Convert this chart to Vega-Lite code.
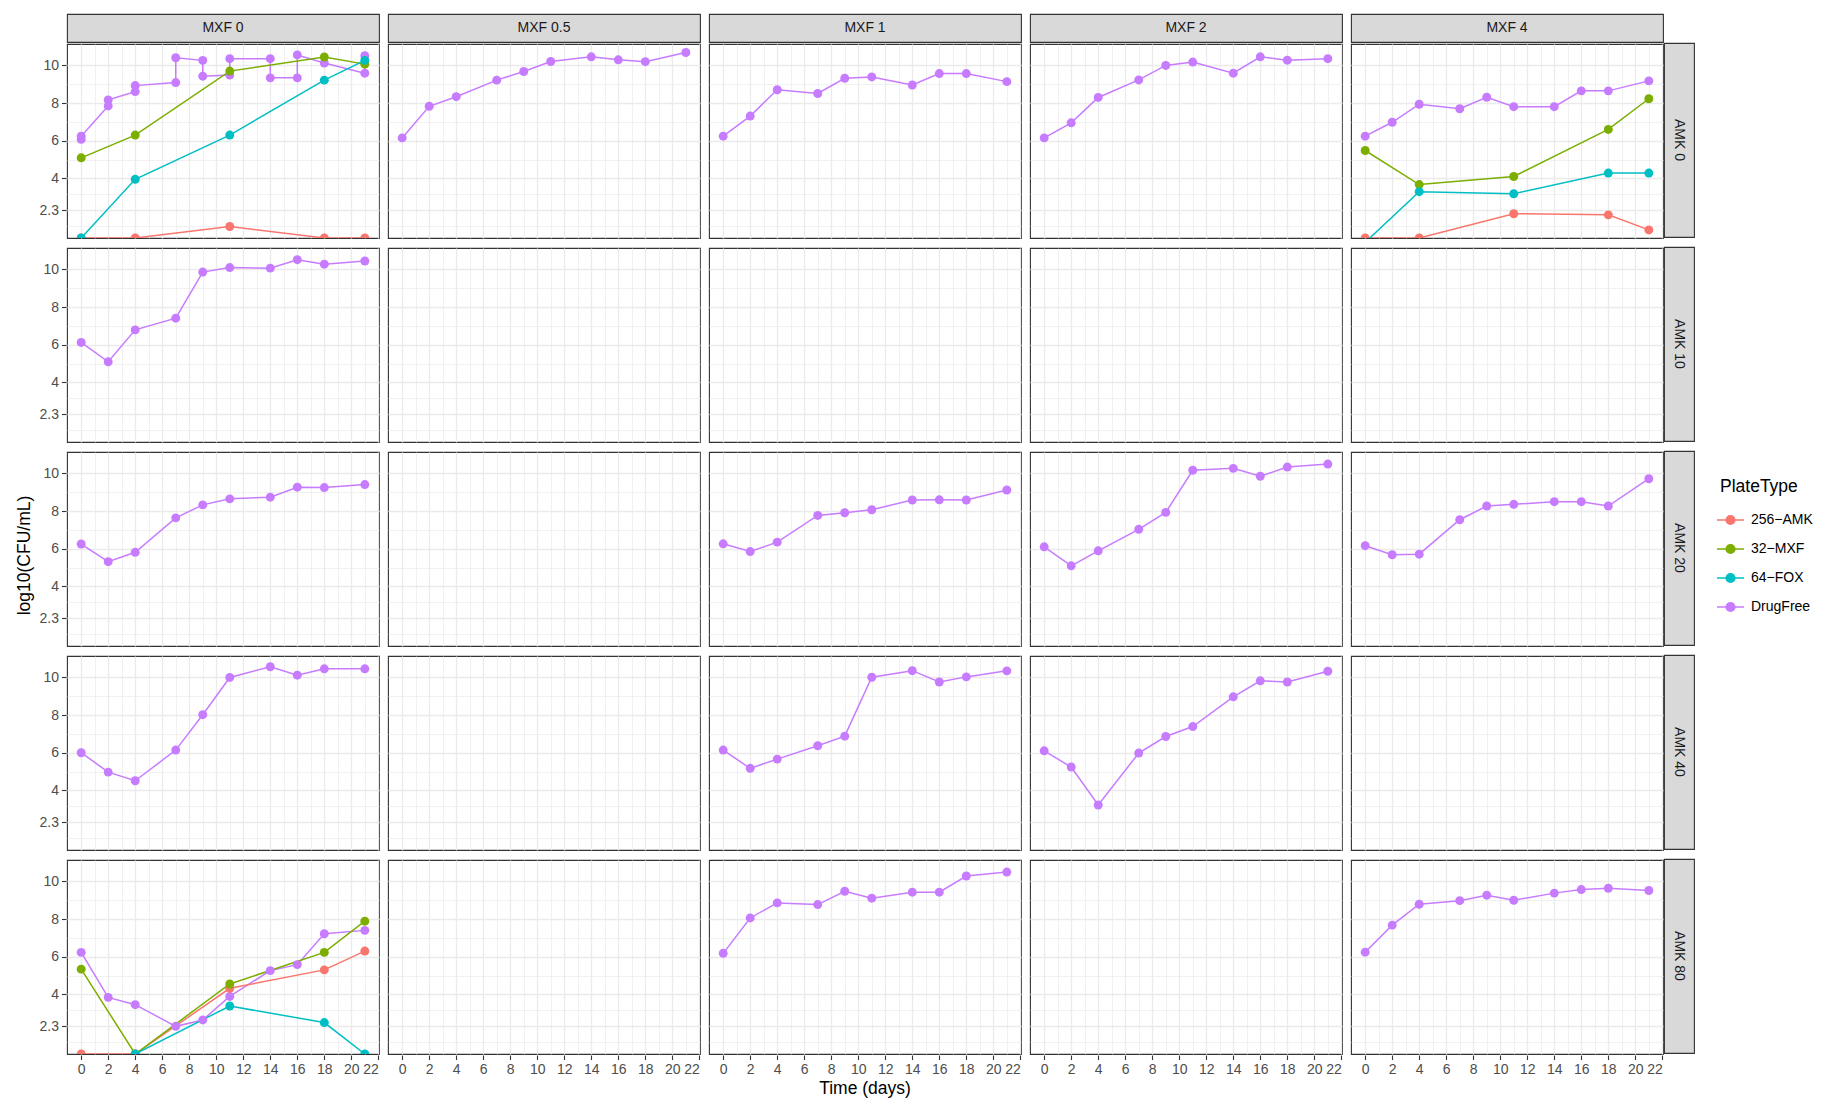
{
  "$schema": "https://vega.github.io/schema/vega-lite/v6.json",
  "background": "white",
  "padding": {"left": 15, "top": 13, "right": 0, "bottom": 0},
  "title": {"text": "log10(CFU/mL)", "orient": "left", "anchor": "middle", "fontSize": 17.5, "fontWeight": "normal", "color": "#000000", "font": "Liberation Sans", "offset": 6},
  "config": {
    "font": "Liberation Sans",
    "view": {"stroke": "#333333", "strokeWidth": 1.1},
    "axis": {"labelFont": "Liberation Sans", "labelFontSize": 14, "labelColor": "#4d4d4d", "tickColor": "#333333", "tickSize": 4.5, "tickWidth": 1.1, "labelPadding": 3, "domain": false, "gridColor": "#ebebeb", "labelOverlap": false}
  },
  "datasets": {
    "cols": [{"MXF": "MXF 0"}, {"MXF": "MXF 0.5"}, {"MXF": "MXF 1"}, {"MXF": "MXF 2"}, {"MXF": "MXF 4"}],
    "rows": [{"AMK": "AMK 0"}, {"AMK": "AMK 10"}, {"AMK": "AMK 20"}, {"AMK": "AMK 40"}, {"AMK": "AMK 80"}],
    "main": [
      {"MXF": "MXF 0", "AMK": "AMK 0", "Plate": "DrugFree", "Time": 0, "Value": 6.07},
      {"MXF": "MXF 0", "AMK": "AMK 0", "Plate": "DrugFree", "Time": 0, "Value": 6.24},
      {"MXF": "MXF 0", "AMK": "AMK 0", "Plate": "DrugFree", "Time": 2, "Value": 7.85},
      {"MXF": "MXF 0", "AMK": "AMK 0", "Plate": "DrugFree", "Time": 2, "Value": 8.17},
      {"MXF": "MXF 0", "AMK": "AMK 0", "Plate": "DrugFree", "Time": 4, "Value": 8.61},
      {"MXF": "MXF 0", "AMK": "AMK 0", "Plate": "DrugFree", "Time": 4, "Value": 8.93},
      {"MXF": "MXF 0", "AMK": "AMK 0", "Plate": "DrugFree", "Time": 7, "Value": 9.09},
      {"MXF": "MXF 0", "AMK": "AMK 0", "Plate": "DrugFree", "Time": 7, "Value": 10.41},
      {"MXF": "MXF 0", "AMK": "AMK 0", "Plate": "DrugFree", "Time": 9, "Value": 10.27},
      {"MXF": "MXF 0", "AMK": "AMK 0", "Plate": "DrugFree", "Time": 9, "Value": 9.43},
      {"MXF": "MXF 0", "AMK": "AMK 0", "Plate": "DrugFree", "Time": 11, "Value": 9.49},
      {"MXF": "MXF 0", "AMK": "AMK 0", "Plate": "DrugFree", "Time": 11, "Value": 10.36},
      {"MXF": "MXF 0", "AMK": "AMK 0", "Plate": "DrugFree", "Time": 14, "Value": 10.36},
      {"MXF": "MXF 0", "AMK": "AMK 0", "Plate": "DrugFree", "Time": 14, "Value": 9.34},
      {"MXF": "MXF 0", "AMK": "AMK 0", "Plate": "DrugFree", "Time": 16, "Value": 9.34},
      {"MXF": "MXF 0", "AMK": "AMK 0", "Plate": "DrugFree", "Time": 16, "Value": 10.56},
      {"MXF": "MXF 0", "AMK": "AMK 0", "Plate": "DrugFree", "Time": 18, "Value": 10.13},
      {"MXF": "MXF 0", "AMK": "AMK 0", "Plate": "DrugFree", "Time": 21, "Value": 9.59},
      {"MXF": "MXF 0", "AMK": "AMK 0", "Plate": "DrugFree", "Time": 21, "Value": 10.52},
      {"MXF": "MXF 0", "AMK": "AMK 0", "Plate": "256\u2212AMK", "Time": 0, "Value": 0.83},
      {"MXF": "MXF 0", "AMK": "AMK 0", "Plate": "256\u2212AMK", "Time": 4, "Value": 0.83},
      {"MXF": "MXF 0", "AMK": "AMK 0", "Plate": "256\u2212AMK", "Time": 11, "Value": 1.44},
      {"MXF": "MXF 0", "AMK": "AMK 0", "Plate": "256\u2212AMK", "Time": 18, "Value": 0.83},
      {"MXF": "MXF 0", "AMK": "AMK 0", "Plate": "256\u2212AMK", "Time": 21, "Value": 0.83},
      {"MXF": "MXF 0", "AMK": "AMK 0", "Plate": "32\u2212MXF", "Time": 0, "Value": 5.09},
      {"MXF": "MXF 0", "AMK": "AMK 0", "Plate": "32\u2212MXF", "Time": 4, "Value": 6.30},
      {"MXF": "MXF 0", "AMK": "AMK 0", "Plate": "32\u2212MXF", "Time": 11, "Value": 9.70},
      {"MXF": "MXF 0", "AMK": "AMK 0", "Plate": "32\u2212MXF", "Time": 18, "Value": 10.45},
      {"MXF": "MXF 0", "AMK": "AMK 0", "Plate": "32\u2212MXF", "Time": 21, "Value": 10.07},
      {"MXF": "MXF 0", "AMK": "AMK 0", "Plate": "64\u2212FOX", "Time": 0, "Value": 0.83},
      {"MXF": "MXF 0", "AMK": "AMK 0", "Plate": "64\u2212FOX", "Time": 4, "Value": 3.95},
      {"MXF": "MXF 0", "AMK": "AMK 0", "Plate": "64\u2212FOX", "Time": 11, "Value": 6.30},
      {"MXF": "MXF 0", "AMK": "AMK 0", "Plate": "64\u2212FOX", "Time": 18, "Value": 9.22},
      {"MXF": "MXF 0", "AMK": "AMK 0", "Plate": "64\u2212FOX", "Time": 21, "Value": 10.27},

      {"MXF": "MXF 0.5", "AMK": "AMK 0", "Plate": "DrugFree", "Time": 0, "Value": 6.15},
      {"MXF": "MXF 0.5", "AMK": "AMK 0", "Plate": "DrugFree", "Time": 2, "Value": 7.83},
      {"MXF": "MXF 0.5", "AMK": "AMK 0", "Plate": "DrugFree", "Time": 4, "Value": 8.34},
      {"MXF": "MXF 0.5", "AMK": "AMK 0", "Plate": "DrugFree", "Time": 7, "Value": 9.22},
      {"MXF": "MXF 0.5", "AMK": "AMK 0", "Plate": "DrugFree", "Time": 9, "Value": 9.68},
      {"MXF": "MXF 0.5", "AMK": "AMK 0", "Plate": "DrugFree", "Time": 11, "Value": 10.21},
      {"MXF": "MXF 0.5", "AMK": "AMK 0", "Plate": "DrugFree", "Time": 14, "Value": 10.46},
      {"MXF": "MXF 0.5", "AMK": "AMK 0", "Plate": "DrugFree", "Time": 16, "Value": 10.30},
      {"MXF": "MXF 0.5", "AMK": "AMK 0", "Plate": "DrugFree", "Time": 18, "Value": 10.20},
      {"MXF": "MXF 0.5", "AMK": "AMK 0", "Plate": "DrugFree", "Time": 21, "Value": 10.69},

      {"MXF": "MXF 1", "AMK": "AMK 0", "Plate": "DrugFree", "Time": 0, "Value": 6.24},
      {"MXF": "MXF 1", "AMK": "AMK 0", "Plate": "DrugFree", "Time": 2, "Value": 7.31},
      {"MXF": "MXF 1", "AMK": "AMK 0", "Plate": "DrugFree", "Time": 4, "Value": 8.71},
      {"MXF": "MXF 1", "AMK": "AMK 0", "Plate": "DrugFree", "Time": 7, "Value": 8.51},
      {"MXF": "MXF 1", "AMK": "AMK 0", "Plate": "DrugFree", "Time": 9, "Value": 9.32},
      {"MXF": "MXF 1", "AMK": "AMK 0", "Plate": "DrugFree", "Time": 11, "Value": 9.39},
      {"MXF": "MXF 1", "AMK": "AMK 0", "Plate": "DrugFree", "Time": 14, "Value": 8.96},
      {"MXF": "MXF 1", "AMK": "AMK 0", "Plate": "DrugFree", "Time": 16, "Value": 9.57},
      {"MXF": "MXF 1", "AMK": "AMK 0", "Plate": "DrugFree", "Time": 18, "Value": 9.57},
      {"MXF": "MXF 1", "AMK": "AMK 0", "Plate": "DrugFree", "Time": 21, "Value": 9.14},

      {"MXF": "MXF 2", "AMK": "AMK 0", "Plate": "DrugFree", "Time": 0, "Value": 6.15},
      {"MXF": "MXF 2", "AMK": "AMK 0", "Plate": "DrugFree", "Time": 2, "Value": 6.95},
      {"MXF": "MXF 2", "AMK": "AMK 0", "Plate": "DrugFree", "Time": 4, "Value": 8.30},
      {"MXF": "MXF 2", "AMK": "AMK 0", "Plate": "DrugFree", "Time": 7, "Value": 9.23},
      {"MXF": "MXF 2", "AMK": "AMK 0", "Plate": "DrugFree", "Time": 9, "Value": 10.0},
      {"MXF": "MXF 2", "AMK": "AMK 0", "Plate": "DrugFree", "Time": 11, "Value": 10.18},
      {"MXF": "MXF 2", "AMK": "AMK 0", "Plate": "DrugFree", "Time": 14, "Value": 9.59},
      {"MXF": "MXF 2", "AMK": "AMK 0", "Plate": "DrugFree", "Time": 16, "Value": 10.46},
      {"MXF": "MXF 2", "AMK": "AMK 0", "Plate": "DrugFree", "Time": 18, "Value": 10.28},
      {"MXF": "MXF 2", "AMK": "AMK 0", "Plate": "DrugFree", "Time": 21, "Value": 10.36},

      {"MXF": "MXF 4", "AMK": "AMK 0", "Plate": "DrugFree", "Time": 0, "Value": 6.24},
      {"MXF": "MXF 4", "AMK": "AMK 0", "Plate": "DrugFree", "Time": 2, "Value": 6.98},
      {"MXF": "MXF 4", "AMK": "AMK 0", "Plate": "DrugFree", "Time": 4, "Value": 7.94},
      {"MXF": "MXF 4", "AMK": "AMK 0", "Plate": "DrugFree", "Time": 7, "Value": 7.70},
      {"MXF": "MXF 4", "AMK": "AMK 0", "Plate": "DrugFree", "Time": 9, "Value": 8.31},
      {"MXF": "MXF 4", "AMK": "AMK 0", "Plate": "DrugFree", "Time": 11, "Value": 7.81},
      {"MXF": "MXF 4", "AMK": "AMK 0", "Plate": "DrugFree", "Time": 14, "Value": 7.81},
      {"MXF": "MXF 4", "AMK": "AMK 0", "Plate": "DrugFree", "Time": 16, "Value": 8.65},
      {"MXF": "MXF 4", "AMK": "AMK 0", "Plate": "DrugFree", "Time": 18, "Value": 8.65},
      {"MXF": "MXF 4", "AMK": "AMK 0", "Plate": "DrugFree", "Time": 21, "Value": 9.18},
      {"MXF": "MXF 4", "AMK": "AMK 0", "Plate": "256\u2212AMK", "Time": 0, "Value": 0.83},
      {"MXF": "MXF 4", "AMK": "AMK 0", "Plate": "256\u2212AMK", "Time": 4, "Value": 0.83},
      {"MXF": "MXF 4", "AMK": "AMK 0", "Plate": "256\u2212AMK", "Time": 11, "Value": 2.12},
      {"MXF": "MXF 4", "AMK": "AMK 0", "Plate": "256\u2212AMK", "Time": 18, "Value": 2.06},
      {"MXF": "MXF 4", "AMK": "AMK 0", "Plate": "256\u2212AMK", "Time": 21, "Value": 1.26},
      {"MXF": "MXF 4", "AMK": "AMK 0", "Plate": "32\u2212MXF", "Time": 0, "Value": 5.48},
      {"MXF": "MXF 4", "AMK": "AMK 0", "Plate": "32\u2212MXF", "Time": 4, "Value": 3.67},
      {"MXF": "MXF 4", "AMK": "AMK 0", "Plate": "32\u2212MXF", "Time": 11, "Value": 4.10},
      {"MXF": "MXF 4", "AMK": "AMK 0", "Plate": "32\u2212MXF", "Time": 18, "Value": 6.60},
      {"MXF": "MXF 4", "AMK": "AMK 0", "Plate": "32\u2212MXF", "Time": 21, "Value": 8.23},
      {"MXF": "MXF 4", "AMK": "AMK 0", "Plate": "64\u2212FOX", "Time": 0, "Value": 0.6},
      {"MXF": "MXF 4", "AMK": "AMK 0", "Plate": "64\u2212FOX", "Time": 4, "Value": 3.29},
      {"MXF": "MXF 4", "AMK": "AMK 0", "Plate": "64\u2212FOX", "Time": 11, "Value": 3.18},
      {"MXF": "MXF 4", "AMK": "AMK 0", "Plate": "64\u2212FOX", "Time": 18, "Value": 4.28},
      {"MXF": "MXF 4", "AMK": "AMK 0", "Plate": "64\u2212FOX", "Time": 21, "Value": 4.28},

      {"MXF": "MXF 0", "AMK": "AMK 10", "Plate": "DrugFree", "Time": 0, "Value": 6.12},
      {"MXF": "MXF 0", "AMK": "AMK 10", "Plate": "DrugFree", "Time": 2, "Value": 5.09},
      {"MXF": "MXF 0", "AMK": "AMK 10", "Plate": "DrugFree", "Time": 4, "Value": 6.79},
      {"MXF": "MXF 0", "AMK": "AMK 10", "Plate": "DrugFree", "Time": 7, "Value": 7.41},
      {"MXF": "MXF 0", "AMK": "AMK 10", "Plate": "DrugFree", "Time": 9, "Value": 9.86},
      {"MXF": "MXF 0", "AMK": "AMK 10", "Plate": "DrugFree", "Time": 11, "Value": 10.10},
      {"MXF": "MXF 0", "AMK": "AMK 10", "Plate": "DrugFree", "Time": 14, "Value": 10.07},
      {"MXF": "MXF 0", "AMK": "AMK 10", "Plate": "DrugFree", "Time": 16, "Value": 10.52},
      {"MXF": "MXF 0", "AMK": "AMK 10", "Plate": "DrugFree", "Time": 18, "Value": 10.28},
      {"MXF": "MXF 0", "AMK": "AMK 10", "Plate": "DrugFree", "Time": 21, "Value": 10.45},
      {"MXF": "MXF 0.5", "AMK": "AMK 10", "Plate": "DrugFree", "Time": null, "Value": null},
      {"MXF": "MXF 1", "AMK": "AMK 10", "Plate": "DrugFree", "Time": null, "Value": null},
      {"MXF": "MXF 2", "AMK": "AMK 10", "Plate": "DrugFree", "Time": null, "Value": null},
      {"MXF": "MXF 4", "AMK": "AMK 10", "Plate": "DrugFree", "Time": null, "Value": null},

      {"MXF": "MXF 0", "AMK": "AMK 20", "Plate": "DrugFree", "Time": 0, "Value": 6.25},
      {"MXF": "MXF 0", "AMK": "AMK 20", "Plate": "DrugFree", "Time": 2, "Value": 5.31},
      {"MXF": "MXF 0", "AMK": "AMK 20", "Plate": "DrugFree", "Time": 4, "Value": 5.81},
      {"MXF": "MXF 0", "AMK": "AMK 20", "Plate": "DrugFree", "Time": 7, "Value": 7.64},
      {"MXF": "MXF 0", "AMK": "AMK 20", "Plate": "DrugFree", "Time": 9, "Value": 8.33},
      {"MXF": "MXF 0", "AMK": "AMK 20", "Plate": "DrugFree", "Time": 11, "Value": 8.65},
      {"MXF": "MXF 0", "AMK": "AMK 20", "Plate": "DrugFree", "Time": 14, "Value": 8.74},
      {"MXF": "MXF 0", "AMK": "AMK 20", "Plate": "DrugFree", "Time": 16, "Value": 9.27},
      {"MXF": "MXF 0", "AMK": "AMK 20", "Plate": "DrugFree", "Time": 18, "Value": 9.25},
      {"MXF": "MXF 0", "AMK": "AMK 20", "Plate": "DrugFree", "Time": 21, "Value": 9.41},
      {"MXF": "MXF 0.5", "AMK": "AMK 20", "Plate": "DrugFree", "Time": null, "Value": null},
      {"MXF": "MXF 1", "AMK": "AMK 20", "Plate": "DrugFree", "Time": 0, "Value": 6.26},
      {"MXF": "MXF 1", "AMK": "AMK 20", "Plate": "DrugFree", "Time": 2, "Value": 5.85},
      {"MXF": "MXF 1", "AMK": "AMK 20", "Plate": "DrugFree", "Time": 4, "Value": 6.35},
      {"MXF": "MXF 1", "AMK": "AMK 20", "Plate": "DrugFree", "Time": 7, "Value": 7.77},
      {"MXF": "MXF 1", "AMK": "AMK 20", "Plate": "DrugFree", "Time": 9, "Value": 7.91},
      {"MXF": "MXF 1", "AMK": "AMK 20", "Plate": "DrugFree", "Time": 11, "Value": 8.07},
      {"MXF": "MXF 1", "AMK": "AMK 20", "Plate": "DrugFree", "Time": 14, "Value": 8.59},
      {"MXF": "MXF 1", "AMK": "AMK 20", "Plate": "DrugFree", "Time": 16, "Value": 8.60},
      {"MXF": "MXF 1", "AMK": "AMK 20", "Plate": "DrugFree", "Time": 18, "Value": 8.59},
      {"MXF": "MXF 1", "AMK": "AMK 20", "Plate": "DrugFree", "Time": 21, "Value": 9.12},
      {"MXF": "MXF 2", "AMK": "AMK 20", "Plate": "DrugFree", "Time": 0, "Value": 6.10},
      {"MXF": "MXF 2", "AMK": "AMK 20", "Plate": "DrugFree", "Time": 2, "Value": 5.09},
      {"MXF": "MXF 2", "AMK": "AMK 20", "Plate": "DrugFree", "Time": 4, "Value": 5.89},
      {"MXF": "MXF 2", "AMK": "AMK 20", "Plate": "DrugFree", "Time": 7, "Value": 7.03},
      {"MXF": "MXF 2", "AMK": "AMK 20", "Plate": "DrugFree", "Time": 9, "Value": 7.93},
      {"MXF": "MXF 2", "AMK": "AMK 20", "Plate": "DrugFree", "Time": 11, "Value": 10.17},
      {"MXF": "MXF 2", "AMK": "AMK 20", "Plate": "DrugFree", "Time": 14, "Value": 10.27},
      {"MXF": "MXF 2", "AMK": "AMK 20", "Plate": "DrugFree", "Time": 16, "Value": 9.85},
      {"MXF": "MXF 2", "AMK": "AMK 20", "Plate": "DrugFree", "Time": 18, "Value": 10.34},
      {"MXF": "MXF 2", "AMK": "AMK 20", "Plate": "DrugFree", "Time": 21, "Value": 10.50},
      {"MXF": "MXF 4", "AMK": "AMK 20", "Plate": "DrugFree", "Time": 0, "Value": 6.16},
      {"MXF": "MXF 4", "AMK": "AMK 20", "Plate": "DrugFree", "Time": 2, "Value": 5.68},
      {"MXF": "MXF 4", "AMK": "AMK 20", "Plate": "DrugFree", "Time": 4, "Value": 5.71},
      {"MXF": "MXF 4", "AMK": "AMK 20", "Plate": "DrugFree", "Time": 7, "Value": 7.54},
      {"MXF": "MXF 4", "AMK": "AMK 20", "Plate": "DrugFree", "Time": 9, "Value": 8.27},
      {"MXF": "MXF 4", "AMK": "AMK 20", "Plate": "DrugFree", "Time": 11, "Value": 8.36},
      {"MXF": "MXF 4", "AMK": "AMK 20", "Plate": "DrugFree", "Time": 14, "Value": 8.50},
      {"MXF": "MXF 4", "AMK": "AMK 20", "Plate": "DrugFree", "Time": 16, "Value": 8.50},
      {"MXF": "MXF 4", "AMK": "AMK 20", "Plate": "DrugFree", "Time": 18, "Value": 8.27},
      {"MXF": "MXF 4", "AMK": "AMK 20", "Plate": "DrugFree", "Time": 21, "Value": 9.72},

      {"MXF": "MXF 0", "AMK": "AMK 40", "Plate": "DrugFree", "Time": 0, "Value": 6.0},
      {"MXF": "MXF 0", "AMK": "AMK 40", "Plate": "DrugFree", "Time": 2, "Value": 4.97},
      {"MXF": "MXF 0", "AMK": "AMK 40", "Plate": "DrugFree", "Time": 4, "Value": 4.51},
      {"MXF": "MXF 0", "AMK": "AMK 40", "Plate": "DrugFree", "Time": 7, "Value": 6.14},
      {"MXF": "MXF 0", "AMK": "AMK 40", "Plate": "DrugFree", "Time": 9, "Value": 8.02},
      {"MXF": "MXF 0", "AMK": "AMK 40", "Plate": "DrugFree", "Time": 11, "Value": 10.0},
      {"MXF": "MXF 0", "AMK": "AMK 40", "Plate": "DrugFree", "Time": 14, "Value": 10.57},
      {"MXF": "MXF 0", "AMK": "AMK 40", "Plate": "DrugFree", "Time": 16, "Value": 10.12},
      {"MXF": "MXF 0", "AMK": "AMK 40", "Plate": "DrugFree", "Time": 18, "Value": 10.46},
      {"MXF": "MXF 0", "AMK": "AMK 40", "Plate": "DrugFree", "Time": 21, "Value": 10.46},
      {"MXF": "MXF 0.5", "AMK": "AMK 40", "Plate": "DrugFree", "Time": null, "Value": null},
      {"MXF": "MXF 1", "AMK": "AMK 40", "Plate": "DrugFree", "Time": 0, "Value": 6.14},
      {"MXF": "MXF 1", "AMK": "AMK 40", "Plate": "DrugFree", "Time": 2, "Value": 5.17},
      {"MXF": "MXF 1", "AMK": "AMK 40", "Plate": "DrugFree", "Time": 4, "Value": 5.66},
      {"MXF": "MXF 1", "AMK": "AMK 40", "Plate": "DrugFree", "Time": 7, "Value": 6.37},
      {"MXF": "MXF 1", "AMK": "AMK 40", "Plate": "DrugFree", "Time": 9, "Value": 6.88},
      {"MXF": "MXF 1", "AMK": "AMK 40", "Plate": "DrugFree", "Time": 11, "Value": 10.01},
      {"MXF": "MXF 1", "AMK": "AMK 40", "Plate": "DrugFree", "Time": 14, "Value": 10.36},
      {"MXF": "MXF 1", "AMK": "AMK 40", "Plate": "DrugFree", "Time": 16, "Value": 9.76},
      {"MXF": "MXF 1", "AMK": "AMK 40", "Plate": "DrugFree", "Time": 18, "Value": 10.03},
      {"MXF": "MXF 1", "AMK": "AMK 40", "Plate": "DrugFree", "Time": 21, "Value": 10.35},
      {"MXF": "MXF 2", "AMK": "AMK 40", "Plate": "DrugFree", "Time": 0, "Value": 6.10},
      {"MXF": "MXF 2", "AMK": "AMK 40", "Plate": "DrugFree", "Time": 2, "Value": 5.24},
      {"MXF": "MXF 2", "AMK": "AMK 40", "Plate": "DrugFree", "Time": 4, "Value": 3.22},
      {"MXF": "MXF 2", "AMK": "AMK 40", "Plate": "DrugFree", "Time": 7, "Value": 5.98},
      {"MXF": "MXF 2", "AMK": "AMK 40", "Plate": "DrugFree", "Time": 9, "Value": 6.86},
      {"MXF": "MXF 2", "AMK": "AMK 40", "Plate": "DrugFree", "Time": 11, "Value": 7.39},
      {"MXF": "MXF 2", "AMK": "AMK 40", "Plate": "DrugFree", "Time": 14, "Value": 8.97},
      {"MXF": "MXF 2", "AMK": "AMK 40", "Plate": "DrugFree", "Time": 16, "Value": 9.82},
      {"MXF": "MXF 2", "AMK": "AMK 40", "Plate": "DrugFree", "Time": 18, "Value": 9.76},
      {"MXF": "MXF 2", "AMK": "AMK 40", "Plate": "DrugFree", "Time": 21, "Value": 10.33},
      {"MXF": "MXF 4", "AMK": "AMK 40", "Plate": "DrugFree", "Time": null, "Value": null},

      {"MXF": "MXF 0", "AMK": "AMK 80", "Plate": "DrugFree", "Time": 0, "Value": 6.23},
      {"MXF": "MXF 0", "AMK": "AMK 80", "Plate": "DrugFree", "Time": 2, "Value": 3.84},
      {"MXF": "MXF 0", "AMK": "AMK 80", "Plate": "DrugFree", "Time": 4, "Value": 3.45},
      {"MXF": "MXF 0", "AMK": "AMK 80", "Plate": "DrugFree", "Time": 7, "Value": 2.30},
      {"MXF": "MXF 0", "AMK": "AMK 80", "Plate": "DrugFree", "Time": 9, "Value": 2.64},
      {"MXF": "MXF 0", "AMK": "AMK 80", "Plate": "DrugFree", "Time": 11, "Value": 3.89},
      {"MXF": "MXF 0", "AMK": "AMK 80", "Plate": "DrugFree", "Time": 14, "Value": 5.26},
      {"MXF": "MXF 0", "AMK": "AMK 80", "Plate": "DrugFree", "Time": 16, "Value": 5.58},
      {"MXF": "MXF 0", "AMK": "AMK 80", "Plate": "DrugFree", "Time": 18, "Value": 7.22},
      {"MXF": "MXF 0", "AMK": "AMK 80", "Plate": "DrugFree", "Time": 21, "Value": 7.40},
      {"MXF": "MXF 0", "AMK": "AMK 80", "Plate": "256\u2212AMK", "Time": 0, "Value": 0.83},
      {"MXF": "MXF 0", "AMK": "AMK 80", "Plate": "256\u2212AMK", "Time": 4, "Value": 0.83},
      {"MXF": "MXF 0", "AMK": "AMK 80", "Plate": "256\u2212AMK", "Time": 11, "Value": 4.32},
      {"MXF": "MXF 0", "AMK": "AMK 80", "Plate": "256\u2212AMK", "Time": 18, "Value": 5.30},
      {"MXF": "MXF 0", "AMK": "AMK 80", "Plate": "256\u2212AMK", "Time": 21, "Value": 6.30},
      {"MXF": "MXF 0", "AMK": "AMK 80", "Plate": "32\u2212MXF", "Time": 0, "Value": 5.34},
      {"MXF": "MXF 0", "AMK": "AMK 80", "Plate": "32\u2212MXF", "Time": 4, "Value": 0.83},
      {"MXF": "MXF 0", "AMK": "AMK 80", "Plate": "32\u2212MXF", "Time": 11, "Value": 4.55},
      {"MXF": "MXF 0", "AMK": "AMK 80", "Plate": "32\u2212MXF", "Time": 18, "Value": 6.23},
      {"MXF": "MXF 0", "AMK": "AMK 80", "Plate": "32\u2212MXF", "Time": 21, "Value": 7.89},
      {"MXF": "MXF 0", "AMK": "AMK 80", "Plate": "64\u2212FOX", "Time": 4, "Value": 0.83},
      {"MXF": "MXF 0", "AMK": "AMK 80", "Plate": "64\u2212FOX", "Time": 11, "Value": 3.38},
      {"MXF": "MXF 0", "AMK": "AMK 80", "Plate": "64\u2212FOX", "Time": 18, "Value": 2.50},
      {"MXF": "MXF 0", "AMK": "AMK 80", "Plate": "64\u2212FOX", "Time": 21, "Value": 0.83},
      {"MXF": "MXF 0.5", "AMK": "AMK 80", "Plate": "DrugFree", "Time": null, "Value": null},
      {"MXF": "MXF 1", "AMK": "AMK 80", "Plate": "DrugFree", "Time": 0, "Value": 6.18},
      {"MXF": "MXF 1", "AMK": "AMK 80", "Plate": "DrugFree", "Time": 2, "Value": 8.06},
      {"MXF": "MXF 1", "AMK": "AMK 80", "Plate": "DrugFree", "Time": 4, "Value": 8.86},
      {"MXF": "MXF 1", "AMK": "AMK 80", "Plate": "DrugFree", "Time": 7, "Value": 8.77},
      {"MXF": "MXF 1", "AMK": "AMK 80", "Plate": "DrugFree", "Time": 9, "Value": 9.48},
      {"MXF": "MXF 1", "AMK": "AMK 80", "Plate": "DrugFree", "Time": 11, "Value": 9.11},
      {"MXF": "MXF 1", "AMK": "AMK 80", "Plate": "DrugFree", "Time": 14, "Value": 9.43},
      {"MXF": "MXF 1", "AMK": "AMK 80", "Plate": "DrugFree", "Time": 16, "Value": 9.43},
      {"MXF": "MXF 1", "AMK": "AMK 80", "Plate": "DrugFree", "Time": 18, "Value": 10.29},
      {"MXF": "MXF 1", "AMK": "AMK 80", "Plate": "DrugFree", "Time": 21, "Value": 10.50},
      {"MXF": "MXF 2", "AMK": "AMK 80", "Plate": "DrugFree", "Time": null, "Value": null},
      {"MXF": "MXF 4", "AMK": "AMK 80", "Plate": "DrugFree", "Time": 0, "Value": 6.24},
      {"MXF": "MXF 4", "AMK": "AMK 80", "Plate": "DrugFree", "Time": 2, "Value": 7.68},
      {"MXF": "MXF 4", "AMK": "AMK 80", "Plate": "DrugFree", "Time": 4, "Value": 8.79},
      {"MXF": "MXF 4", "AMK": "AMK 80", "Plate": "DrugFree", "Time": 7, "Value": 8.98},
      {"MXF": "MXF 4", "AMK": "AMK 80", "Plate": "DrugFree", "Time": 9, "Value": 9.27},
      {"MXF": "MXF 4", "AMK": "AMK 80", "Plate": "DrugFree", "Time": 11, "Value": 9.00},
      {"MXF": "MXF 4", "AMK": "AMK 80", "Plate": "DrugFree", "Time": 14, "Value": 9.38},
      {"MXF": "MXF 4", "AMK": "AMK 80", "Plate": "DrugFree", "Time": 16, "Value": 9.57},
      {"MXF": "MXF 4", "AMK": "AMK 80", "Plate": "DrugFree", "Time": 18, "Value": 9.64},
      {"MXF": "MXF 4", "AMK": "AMK 80", "Plate": "DrugFree", "Time": 21, "Value": 9.52}
    ]
  },
  "spacing": -9,
  "hconcat": [
    {
      "spacing": 0,
      "vconcat": [
        {
          "data": {"name": "cols"},
          "spacing": 7,
          "facet": {"column": {"field": "MXF", "type": "nominal", "sort": ["MXF 0", "MXF 0.5", "MXF 1", "MXF 2", "MXF 4"], "header": {"labels": false, "title": null}}},
          "spec": {
            "width": 312, "height": 28,
            "view": {"fill": "#d9d9d9", "stroke": "#333333", "strokeWidth": 1.1},
            "mark": {"type": "text", "fontSize": 14, "color": "#1a1a1a", "font": "Liberation Sans", "baseline": "middle", "align": "center"},
            "encoding": {
              "text": {"field": "MXF"},
              "y": {"datum": 5, "type": "quantitative", "scale": {"domain": [0, 10]}, "axis": {"values": [5], "labelExpr": "'2.3'", "labelColor": "transparent", "tickColor": "transparent", "grid": false, "title": null}}
            }
          }
        },
        {
          "data": {"name": "main"},
          "spacing": {"row": 8, "column": 7},
          "facet": {
            "column": {"field": "MXF", "type": "nominal", "sort": ["MXF 0", "MXF 0.5", "MXF 1", "MXF 2", "MXF 4"], "header": {"labels": false, "title": "Time (days)", "titleOrient": "bottom", "titleFont": "Liberation Sans", "titleFontSize": 17.5, "titleFontWeight": "normal", "titleColor": "#000000", "titlePadding": -7}},
            "row": {"field": "AMK", "type": "nominal", "sort": ["AMK 0", "AMK 10", "AMK 20", "AMK 40", "AMK 80"], "header": {"labels": false, "title": null}}
          },
          "spec": {
            "width": 312, "height": 194,
            "encoding": {
              "x": {"field": "Time", "type": "quantitative", "scale": {"domain": [-1.05, 22.05], "nice": false, "zero": false},
                "axis": {"title": null, "values": [0,1,2,3,4,5,6,7,8,9,10,11,12,13,14,15,16,17,18,19,20,21,22],
                  "labelExpr": "datum.value % 2 === 0 ? datum.label : ''",
                  "tickColor": {"condition": {"test": "datum.value % 2 !== 0", "value": "transparent"}, "value": "#333333"},
                  "gridWidth": {"condition": {"test": "datum.value % 2 !== 0", "value": 0.7}, "value": 1.3}}},
              "y": {"field": "Value", "type": "quantitative", "scale": {"domain": [0.83, 11.14], "nice": false, "zero": false},
                "axis": {"title": null, "values": [1.45, 2.3, 3.15, 4, 5, 6, 7, 8, 9, 10], "format": "~g",
                  "labelExpr": "indexof([2.3,4,6,8,10], datum.value) >= 0 ? datum.label : ''",
                  "tickColor": {"condition": {"test": "indexof([2.3,4,6,8,10], datum.value) < 0", "value": "transparent"}, "value": "#333333"},
                  "gridWidth": {"condition": {"test": "indexof([2.3,4,6,8,10], datum.value) < 0", "value": 0.7}, "value": 1.3}}},
              "color": {"field": "Plate", "type": "nominal",
                "scale": {"domain": ["256\u2212AMK", "32\u2212MXF", "64\u2212FOX", "DrugFree"], "range": ["#F8766D", "#7CAE00", "#00BFC4", "#C77CFF"]},
                "legend": {"orient": "none", "legendX": 1653, "legendY": 464, "title": "PlateType", "titleFont": "Liberation Sans", "titleFontSize": 17.5, "titleFontWeight": "normal", "titleColor": "#000000", "titlePadding": 14,
                  "labelFont": "Liberation Sans", "labelFontSize": 14, "labelColor": "#000000", "labelOffset": 10, "rowPadding": 11, "padding": 0,
                  "symbolType": "M-1.4,0L1.4,0M0.45,0A0.45,0.45,0,1,1,-0.45,0A0.45,0.45,0,1,1,0.45,0Z", "symbolSize": 372, "symbolStrokeWidth": 1.5,
                  "encode": {"symbols": {"update": {"fill": {"scale": "color", "field": "value"}, "stroke": {"scale": "color", "field": "value"}, "opacity": {"value": 1}, "size": {"value": 372}}}}}}
            },
            "layer": [
              {"mark": {"type": "line", "strokeWidth": 1.5, "clip": true}, "encoding": {}},
              {"mark": {"type": "point", "filled": true, "size": 80, "opacity": 1, "clip": true}, "encoding": {}}
            ]
          }
        }
      ]
    },
    {
      "spacing": 0,
      "vconcat": [
        {"data": {"values": [{"a": 1}]}, "width": 30, "height": 28, "view": {"stroke": null, "fill": null}, "mark": {"type": "text"}, "encoding": {"text": {"value": ""}}},
        {
          "data": {"name": "rows"},
          "spacing": 8,
          "facet": {"row": {"field": "AMK", "type": "nominal", "sort": ["AMK 0", "AMK 10", "AMK 20", "AMK 40", "AMK 80"], "header": {"labels": false, "title": null}}},
          "spec": {
            "width": 30, "height": 194,
            "view": {"fill": "#d9d9d9", "stroke": "#333333", "strokeWidth": 1.1},
            "mark": {"type": "text", "angle": 90, "fontSize": 14, "color": "#1a1a1a", "font": "Liberation Sans", "baseline": "middle", "align": "center"},
            "encoding": {"text": {"field": "AMK"}}
          }
        }
      ]
    }
  ]
}
